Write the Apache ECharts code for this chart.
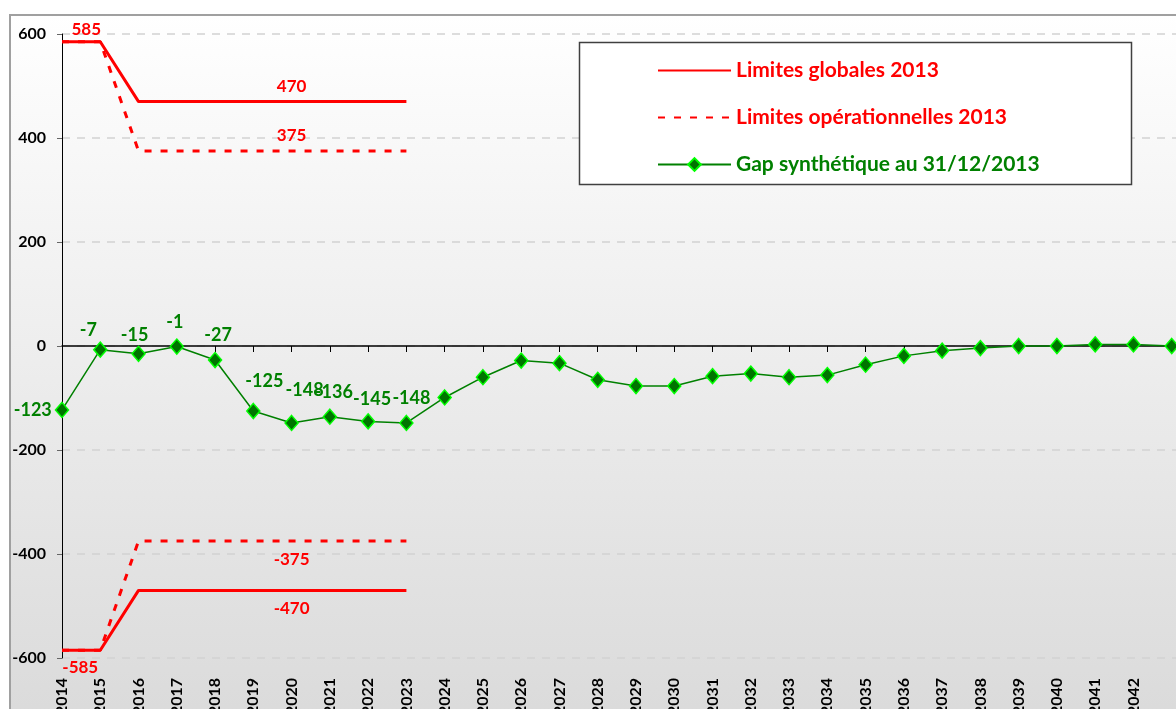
<!DOCTYPE html>
<html>
<head>
<meta charset="utf-8">
<script src="https://cdn.jsdelivr.net/npm/echarts@6/dist/echarts.min.js"></script>
<style>
  html, body { margin: 0; padding: 0; background: #ffffff; }
  #chart { width: 1176px; height: 709px; }
</style>
</head>
<body>
<div id="chart"></div>
<script>
// années (la dernière n'est là que pour prolonger l'axe au-delà du cadre)
var years = ['2014', '2015', '2016', '2017', '2018', '2019', '2020', '2021', '2022', '2023',
    '2024', '2025', '2026', '2027', '2028', '2029', '2030', '2031', '2032', '2033',
    '2034', '2035', '2036', '2037', '2038', '2039', '2040', '2041', '2042', '2043', '2044'];

// limites globales / opérationnelles 2013 (2014 -> 2023)
var globalUpper = [585, 585, 470, 470, 470, 470, 470, 470, 470, 470];
var globalLower = [-585, -585, -470, -470, -470, -470, -470, -470, -470, -470];
var operUpper = [585, 585, 375, 375, 375, 375, 375, 375, 375, 375];
var operLower = [-585, -585, -375, -375, -375, -375, -375, -375, -375, -375];

// gap synthétique au 31/12/2013
var gapValues = [-123, -7, -15, -1, -27, -125, -148, -136, -145, -148,
    -99, -60, -28, -33, -65, -77, -77, -58, -53, -60,
    -56, -36, -19, -9, -4, 0, 0, 3, 3, 0];

var yTicks = [-600, -400, -200, 0, 200, 400, 600];

var FONT = 'Lato, "DejaVu Sans", sans-serif';
var RED = '#ff0000';
var GREEN = '#008000';

// petits décalages des étiquettes du gap, comme placées à la main dans Excel
var gapLabelNudge = [[0, 0], [-12, 6], [-4, 7], [-2, 1], [3, 0], [11, -5], [13, -7], [4, 1], [4, 3], [5, 1]];

var chart = echarts.init(document.getElementById('chart'));

// ajoute une étiquette sur certains points d'une série de limites
function withLabels(values, labelled, position, offset) {
    return values.map(function (v, i) {
        if (labelled.indexOf(i) < 0) {
            return v;
        }
        return {
            value: v,
            label: { show: true, position: position, offset: i === 1 ? offset : [0, 0] }
        };
    });
}

function limitSeries(name, values, dashed, position, labelled, offset) {
    return {
        name: name,
        type: 'line',
        data: withLabels(values, labelled, position, offset),
        symbol: 'circle',
        symbolSize: 0,
        showSymbol: true,
        z: dashed ? 3 : 4,
        lineStyle: { color: RED, width: 3, type: dashed ? [7, 9] : 'solid' },
        itemStyle: { color: RED },
        label: {
            show: false,
            color: RED,
            fontFamily: FONT,
            fontWeight: 'bold',
            fontSize: 17,
            distance: position === 'top' ? 7 : 10
        }
    };
}

var gapData = gapValues.map(function (v, i) {
    if (i >= gapLabelNudge.length) {
        return v;
    }
    return {
        value: v,
        label: {
            show: true,
            position: i === 0 ? 'left' : 'top',
            distance: i === 0 ? 3 : 8,
            offset: gapLabelNudge[i]
        }
    };
});

var option = {
    animation: false,
    backgroundColor: '#ffffff',
    textStyle: { fontFamily: FONT },
    graphic: [
        {
            type: 'rect',
            z: -10,
            shape: { x: 10, y: 15, width: 1200, height: 730 },
            style: {
                fill: {
                    type: 'linear', x: 0, y: 0, x2: 0, y2: 1,
                    colorStops: [
                        { offset: 0, color: '#ffffff' },
                        { offset: 1, color: '#d9d9d9' }
                    ]
                },
                stroke: '#a0a0a0',
                lineWidth: 2
            },
            silent: true
        },
        {
            type: 'rect',
            z: 50,
            shape: { x: 579.5, y: 42.5, width: 552, height: 142 },
            style: { fill: '#ffffff', stroke: '#404040', lineWidth: 1.5 },
            silent: true
        }
    ],
    legend: {
        orient: 'vertical',
        left: 657,
        top: 60,
        z: 60,
        padding: 0,
        itemWidth: 73,
        itemHeight: 16,
        itemGap: 26,
        textStyle: { fontFamily: FONT, fontWeight: 'bold', fontSize: 21, lineHeight: 18 },
        data: [
            { name: 'Limites globales 2013', textStyle: { color: RED }, itemStyle: { opacity: 0 } },
            { name: 'Limites opérationnelles 2013', textStyle: { color: RED }, itemStyle: { opacity: 0 } },
            { name: 'Gap synthétique au 31/12/2013', textStyle: { color: GREEN } }
        ]
    },
    grid: { left: 62, top: 34, bottom: 51, right: -34, outerBoundsMode: 'none' },
    xAxis: [
        {
            type: 'category',
            data: years,
            boundaryGap: false,
            position: 'bottom',
            axisLine: { onZero: true, lineStyle: { color: '#000000', width: 1.5 } },
            axisTick: { show: true, interval: 0, length: 6, lineStyle: { color: '#000000' } },
            axisLabel: { show: false },
            splitLine: { show: false }
        },
        {
            type: 'category',
            data: years,
            boundaryGap: false,
            position: 'bottom',
            axisLine: { show: false, onZero: false },
            axisTick: { show: false },
            axisLabel: {
                rotate: 90,
                margin: 20,
                interval: function (idx) { return idx < 29; },
                color: '#000000',
                fontFamily: FONT,
                fontWeight: 'bold',
                fontSize: 16
            },
            splitLine: { show: false }
        }
    ],
    yAxis: {
        type: 'value',
        min: yTicks[0],
        max: yTicks[yTicks.length - 1],
        interval: 200,
        axisLine: { show: true, lineStyle: { color: '#000000', width: 1 } },
        axisTick: { show: true, length: 5, lineStyle: { color: '#666666' } },
        axisLabel: {
            margin: 16,
            color: '#000000',
            fontFamily: FONT,
            fontWeight: 'bold',
            fontSize: 16
        },
        splitLine: { show: true, lineStyle: { color: '#d2d2d2', width: 1.5, type: [8, 7] } }
    },
    series: [
        limitSeries('Limites opérationnelles 2013', operUpper, true, 'top', [6], [0, 0]),
        limitSeries('Limites opérationnelles 2013', operLower, true, 'bottom', [6], [0, 0]),
        limitSeries('Limites globales 2013', globalUpper, false, 'top', [1, 6], [-14, 3]),
        limitSeries('Limites globales 2013', globalLower, false, 'bottom', [1, 6], [-20, -1]),
        {
            name: 'Gap synthétique au 31/12/2013',
            type: 'line',
            data: gapData,
            z: 5,
            symbol: 'diamond',
            symbolSize: [13, 15],
            lineStyle: { color: GREEN, width: 1.5 },
            itemStyle: { color: '#007400', borderColor: '#00ff00', borderWidth: 1.5 },
            label: {
                show: false,
                color: GREEN,
                fontFamily: FONT,
                fontWeight: 'bold',
                fontSize: 18
            }
        }
    ]
};

chart.setOption(option);
</script>
</body>
</html>
